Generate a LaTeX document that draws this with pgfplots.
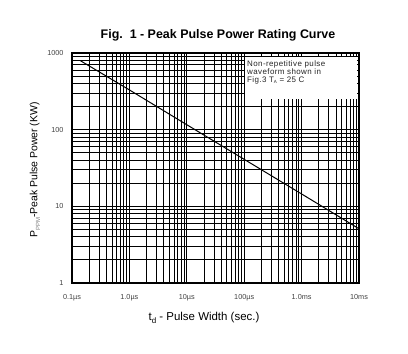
\documentclass[border=0pt]{standalone}
\usepackage{fontspec}
\setmainfont{Liberation Sans}
\usepackage{pgfplots}
\pgfplotsset{compat=1.18}
\begin{document}
\begin{tikzpicture}
\useasboundingbox (0,0) rectangle (408bp,354bp);
\begin{axis}[
 at={(72bp,71bp)}, anchor=south west,
 scale only axis, width=287bp, height=230bp,
 xmode=log, ymode=log,
 xmin=1e-7, xmax=1e-2, ymin=1, ymax=1000,
 grid=both,
 major grid style={black, line width=1bp},
 minor grid style={black, line width=1bp},
 axis line style={black, line width=1.1bp},
 major tick length=0pt, minor tick length=0pt,
 xtick={1e-7,1e-6,1e-5,1e-4,1e-3,1e-2},
 xticklabels={0.1µs,1.0µs,10µs,100µs,1.0ms,10ms},
 ytick={1,10,100,1000},
 yticklabels={1,10,100,1000},
 tick label style={font=\fontsize{7.3}{8}\selectfont, text=black!75},
 xticklabel style={yshift=-8bp},
 yticklabel style={xshift=-5bp},
]
\addplot[black, line width=1bp] coordinates {
 (1.4e-7,794) (1e-6,330) (1e-5,116) (1e-4,41) (1e-3,14.5) (1e-2,5.1)
};
\end{axis}
\fill[white] (245bp,255bp) rectangle (357bp,297bp);
\node[anchor=north west, inner sep=0pt, align=left, font=\fontsize{8}{7.3}\selectfont\addfontfeature{LetterSpace=5}, text=black!85] at (247bp,293.5bp)
 {Non-repetitive pulse\\waveform shown in\\Fig.3 T\raisebox{-0.3ex}{\fontsize{4.5}{5}\selectfont A} = 25 C};
\node[font=\fontsize{12.5}{14}\selectfont\bfseries] at (218bp,319bp) {Fig.\ \ 1 - Peak Pulse Power Rating Curve};
\node[font=\fontsize{11.5}{13}\selectfont] at (204bp,36bp) {t\raisebox{-0.5ex}{\fontsize{8}{8}\selectfont d} - Pulse Width (sec.)};
\node[rotate=90, font=\fontsize{10.5}{12}\selectfont] at (35bp,184bp) {P\raisebox{-0.5ex}{\fontsize{6}{6}\selectfont\color{black!50}PPM}-Peak Pulse Power (KW)};
\end{tikzpicture}
\end{document}
